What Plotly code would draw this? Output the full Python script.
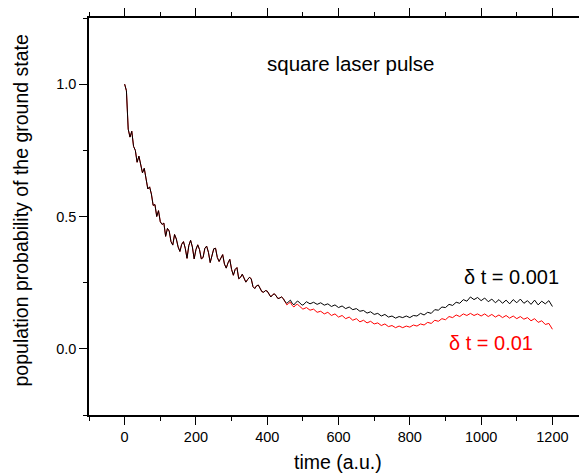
import plotly.graph_objects as go

# ---- data ----
# shared part of both runs (t = 0 ... 445, step 5): curves coincide
t_shared = list(range(0, 450, 5))
p_shared = [
    1.000, 0.975, 0.830, 0.800, 0.822, 0.765, 0.750, 0.705, 0.728, 0.700,
    0.665, 0.682, 0.648, 0.604, 0.612, 0.585, 0.542, 0.545, 0.500, 0.522,
    0.480, 0.470, 0.475, 0.425, 0.455, 0.445, 0.405, 0.392, 0.432, 0.415,
    0.385, 0.368, 0.395, 0.405, 0.380, 0.342, 0.390, 0.410, 0.385, 0.340,
    0.375, 0.393, 0.375, 0.340, 0.345, 0.380, 0.388, 0.365, 0.326, 0.350,
    0.378, 0.380, 0.345, 0.330, 0.345, 0.356, 0.320, 0.305, 0.325, 0.338,
    0.300, 0.278, 0.300, 0.307, 0.265, 0.270, 0.282, 0.265, 0.252, 0.262,
    0.270, 0.265, 0.235, 0.228, 0.238, 0.241, 0.225, 0.216, 0.214, 0.220,
    0.218, 0.205, 0.196, 0.204, 0.208, 0.200, 0.190, 0.192, 0.196, 0.190,
]

# tail times (t = 450 ... 500 step 5, then 510 ... 1200 step 10)
t_tail = list(range(450, 505, 5)) + list(range(510, 1210, 10))

# delta t = 0.001 (black)
p_fine_tail = [
    0.178, 0.172, 0.180, 0.184, 0.172, 0.166, 0.175, 0.180, 0.176, 0.168, 0.165,
    0.178, 0.170, 0.176, 0.168, 0.174, 0.165, 0.170, 0.160, 0.166, 0.156,
    0.162, 0.152, 0.158, 0.148, 0.152, 0.142, 0.145, 0.135, 0.140, 0.130,
    0.134, 0.124, 0.130, 0.120, 0.124, 0.116, 0.122, 0.118, 0.124, 0.118,
    0.126, 0.124, 0.134, 0.128, 0.138, 0.134, 0.148, 0.146, 0.158, 0.156,
    0.168, 0.164, 0.176, 0.172, 0.186, 0.180, 0.196, 0.186, 0.194, 0.182,
    0.192, 0.178, 0.188, 0.174, 0.186, 0.172, 0.184, 0.170, 0.186, 0.174,
    0.188, 0.172, 0.182, 0.168, 0.184, 0.166, 0.180, 0.170, 0.182, 0.160,
]

# delta t = 0.01 (red)
p_coarse_tail = [
    0.175, 0.166, 0.172, 0.176, 0.164, 0.158, 0.166, 0.168, 0.162, 0.155, 0.150,
    0.156, 0.146, 0.150, 0.138, 0.142, 0.132, 0.138, 0.126, 0.132, 0.120,
    0.126, 0.114, 0.120, 0.108, 0.114, 0.102, 0.108, 0.098, 0.104, 0.094,
    0.098, 0.088, 0.094, 0.084, 0.088, 0.080, 0.086, 0.080, 0.086, 0.082,
    0.090, 0.086, 0.094, 0.090, 0.100, 0.096, 0.108, 0.104, 0.114, 0.110,
    0.122, 0.118, 0.128, 0.122, 0.132, 0.126, 0.134, 0.126, 0.132, 0.124,
    0.132, 0.122, 0.130, 0.120, 0.128, 0.118, 0.126, 0.116, 0.124, 0.114,
    0.122, 0.112, 0.118, 0.106, 0.114, 0.100, 0.106, 0.092, 0.096, 0.074,
]

x_ticks = [0, 200, 400, 600, 800, 1000, 1200]
y_ticks = [0.0, 0.5, 1.0]

FONT = "Liberation Sans"

fig = go.Figure()
fig.add_trace(go.Scatter(x=t_shared + t_tail, y=p_shared + p_coarse_tail,
                         mode="lines", line=dict(color="#ff0000", width=1),
                         showlegend=False))
fig.add_trace(go.Scatter(x=t_shared + t_tail, y=p_shared + p_fine_tail,
                         mode="lines", line=dict(color="#000000", width=1),
                         showlegend=False))

# page body has an 8px default margin, so the figure is 8px smaller
fig.update_layout(
    width=579, height=465,
    margin=dict(l=81, r=0, t=2, b=58),
    plot_bgcolor="white", paper_bgcolor="white",
    font=dict(family=FONT, size=14.5, color="black"),
    xaxis=dict(range=[-100, 1297], tickvals=x_ticks, ticks="outside", ticklen=8,
               tickwidth=1, tickcolor="black", showline=True, linecolor="black",
               linewidth=1.5, mirror="ticks", showgrid=False, zeroline=False,
               minor=dict(dtick=100, tick0=0, ticks="outside", ticklen=4,
                          tickcolor="black", showgrid=False)),
    yaxis=dict(range=[-0.25, 1.25], tickvals=y_ticks, ticktext=["0.0", "0.5", "1.0"],
               ticks="outside", ticklen=8, tickwidth=1, tickcolor="black",
               showline=True, linecolor="black", linewidth=1.5, mirror=False,
               showgrid=False, zeroline=False,
               minor=dict(dtick=0.25, tick0=0, ticks="outside", ticklen=4,
                          tickcolor="black", showgrid=False)),
)

fig.add_annotation(text="time (a.u.)", xref="paper", yref="paper", x=0.5, y=0,
                   xanchor="center", yanchor="middle", yshift=-47, showarrow=False,
                   font=dict(size=19.5))
fig.add_annotation(text="population probability of the ground state", xref="paper",
                   yref="paper", x=0, y=0.5, xanchor="center", yanchor="middle",
                   xshift=-69, yshift=6, textangle=-90, showarrow=False,
                   font=dict(size=19.5))
fig.add_annotation(text="square laser pulse", x=634, y=1.079, xref="x", yref="y",
                   showarrow=False, font=dict(size=20.5))
fig.add_annotation(text="δ t = 0.001", x=1086, y=0.27, xref="x", yref="y",
                   showarrow=False, font=dict(size=20, color="black"))
fig.add_annotation(text="δ t = 0.01", x=1027, y=0.021, xref="x", yref="y",
                   showarrow=False, font=dict(size=20, color="#ff0000"))

fig.write_html("out.html")
